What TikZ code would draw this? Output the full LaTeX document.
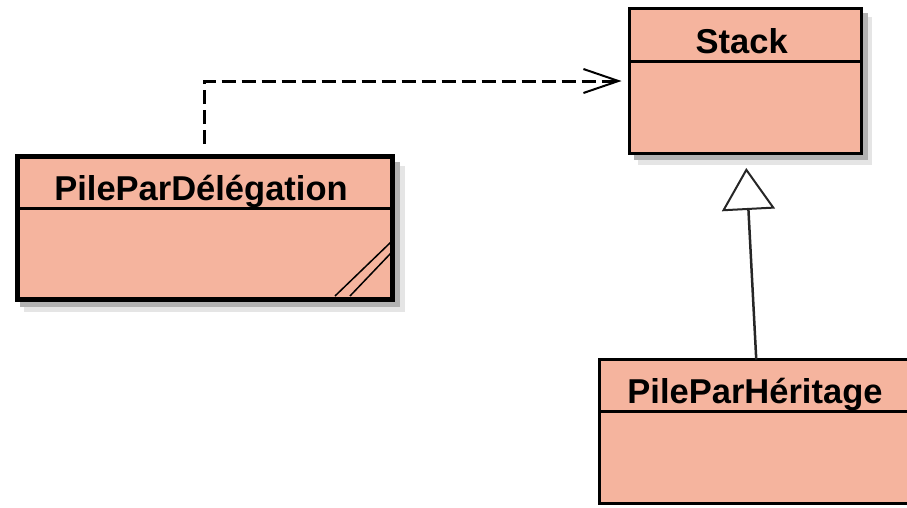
\documentclass[tikz,border=0pt]{standalone}
\usepackage{fontspec}
\setmainfont{Liberation Sans}
\usetikzlibrary{arrows.meta,calc}
\definecolor{salmon}{RGB}{245,180,158}
\tikzset{
  classbox/.style={draw=black,fill=salmon,inner sep=0pt,outer sep=0pt},
  shadowA/.style={fill=black!30,draw=none},
  shadowB/.style={fill=black!10,draw=none},
  cname/.style={font=\bfseries\fontsize{34.5}{36}\selectfont,anchor=base,inner sep=0pt},
  dependency/.style={draw=black,line width=3pt,dash pattern=on 14pt off 6pt,
    -{Straight Barb[length=35pt,width=24pt,line width=2pt]}},
  inherit/.style={draw=black!85,line width=2.5pt,
    -{Triangle[open,length=42pt,width=53pt,line width=2pt,fill=white]}}
}
\begin{document}
\begin{tikzpicture}[x=1pt,y=-1pt]
\useasboundingbox (0,0) rectangle (907,507);
\begin{scope}
\clip (0,0) rectangle (907,507);
% shadows
\fill[shadowB] (24,166) rectangle (405,312);
\fill[shadowA] (20,162) rectangle (400,307);
\fill[shadowB] (638,17) rectangle (872,165);
\fill[shadowA] (634,13) rectangle (868,160);
% PileParDelegation
\node[classbox,line width=5pt,minimum width=375pt,minimum height=143pt] (del) at (204.5,227.5) {};
\draw[line width=3pt] (del.west |- 0,208) -- (del.east |- 0,208);
\draw[line width=1.5pt] (335,296) -- (391,242) (350,296) -- (391,253);
\node[cname] (delname) at (201,200) {PileParDélégation};
% Stack
\node[classbox,line width=3pt,minimum width=232pt,minimum height=145pt] (stack) at (745.5,81) {};
\draw[line width=3pt] (stack.west |- 0,61) -- (stack.east |- 0,61);
\node[cname] (stackname) at (741.7,53) {Stack};
% PileParHeritage
\node[classbox,line width=3pt,minimum width=313.5pt,minimum height=144pt] (her) at (756.25,431.5) {};
\draw[line width=3pt] (her.west |- 0,411) -- (her.east |- 0,411);
\node[cname] (hername) at (755,403) {PileParHéritage};
% connectors
\draw[dependency,shorten <=12pt,shorten >=8pt] (del.north) |- (stack.west);
\draw[inherit,shorten >=14.5pt] (her.north) -- (stack.south);
\end{scope}
\end{tikzpicture}
\end{document}
